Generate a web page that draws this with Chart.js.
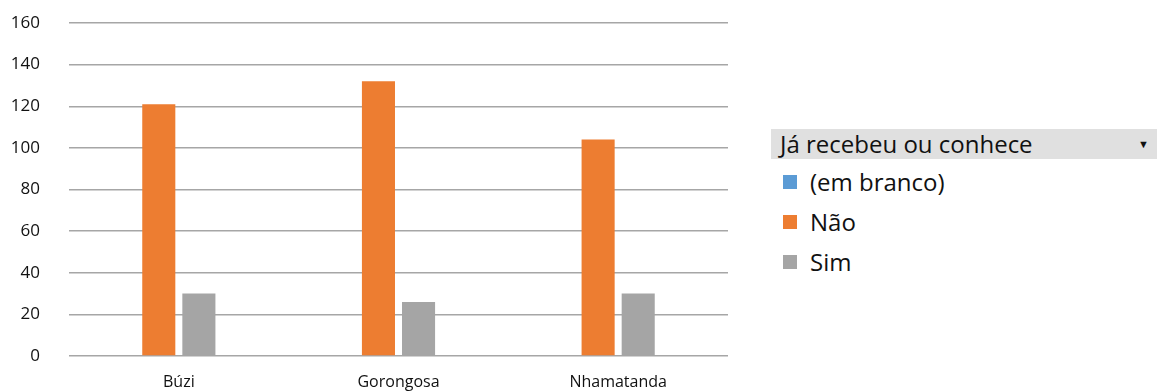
<!DOCTYPE html>
<html>
<head>
<meta charset="utf-8">
<script src="https://cdn.jsdelivr.net/npm/chart.js@4"></script>
<style>
  html, body { margin: 0; padding: 0; background: #fff; }
  body { width: 1159px; height: 392px; position: relative; overflow: hidden; font-family: "Open Sans", sans-serif; }
  #chart { position: absolute; left: 0; top: 0; }
  #legend { position: absolute; left: 771px; top: 129px; width: 386px; }
  #legend .head { height: 30px; line-height: 30px; background: #e0e0e0; color: #111; font-size: 24px; padding-left: 9px; position: relative; }
  #legend .head .arrow { position: absolute; right: 8px; top: 0; font-size: 11px; }
  #legend .item { height: 40px; line-height: 40px; font-size: 24px; color: #111; position: relative; padding-left: 39px; top: 3px; }
  #legend .box { position: absolute; left: 12px; top: 13px; width: 14px; height: 14px; }
</style>
</head>
<body>
<canvas id="chart" width="750" height="392"></canvas>
<div id="legend"></div>
<script>
const legendTitle = 'Já recebeu ou conhece';
const regions = ['Búzi', 'Gorongosa', 'Nhamatanda'];
const emBranco = [null, null, null];
const nao = [121, 132, 104];
const sim = [30, 26, 30];
const yTicks = [0, 20, 40, 60, 80, 100, 120, 140, 160];

const ctx = document.getElementById('chart');

const chart = new Chart(ctx, {
    type: 'bar',
    data: {
        labels: regions,
        datasets: [
            { label: '(em branco)', data: emBranco, backgroundColor: '#5b9bd5' },
            { label: 'Não', data: nao, backgroundColor: '#ed7d31' },
            { label: 'Sim', data: sim, backgroundColor: '#a5a5a5' }
        ]
    },
    options: {
        responsive: false,
        animation: false,
        skipNull: true,
        categoryPercentage: 0.365,
        barPercentage: 0.825,
        layout: { padding: { top: 23, right: 22, left: 0, bottom: 0 } },
        plugins: {
            legend: { display: false },
            tooltip: { enabled: false }
        },
        scales: {
            x: {
                grid: { display: false },
                border: { display: false },
                ticks: { color: '#111', font: { family: 'Open Sans', size: 16 }, padding: 9 },
                afterFit: (s) => { s.height = 36; }
            },
            y: {
                min: 0,
                max: 160,
                afterBuildTicks: (s) => { s.ticks = yTicks.map(v => ({ value: v })); },
                // invisible tick marks push the labels away from the grid
                grid: { color: '#a6a6a6', lineWidth: 1.5, drawTicks: true, tickLength: 28, tickColor: 'rgba(0,0,0,0)' },
                border: { display: false },
                ticks: { color: '#111', font: { family: 'Open Sans', size: 17 }, padding: 1 },
                afterFit: (s) => { s.width = 69; }
            }
        }
    }
});

// legend box built from the chart's own datasets
const legend = document.getElementById('legend');
let html = '<div class="head">' + legendTitle + '<span class="arrow">▼</span></div>';
chart.data.datasets.forEach(ds => {
    html += '<div class="item"><span class="box" style="background:' + ds.backgroundColor + '"></span>' + ds.label + '</div>';
});
legend.innerHTML = html;
</script>
</body>
</html>
